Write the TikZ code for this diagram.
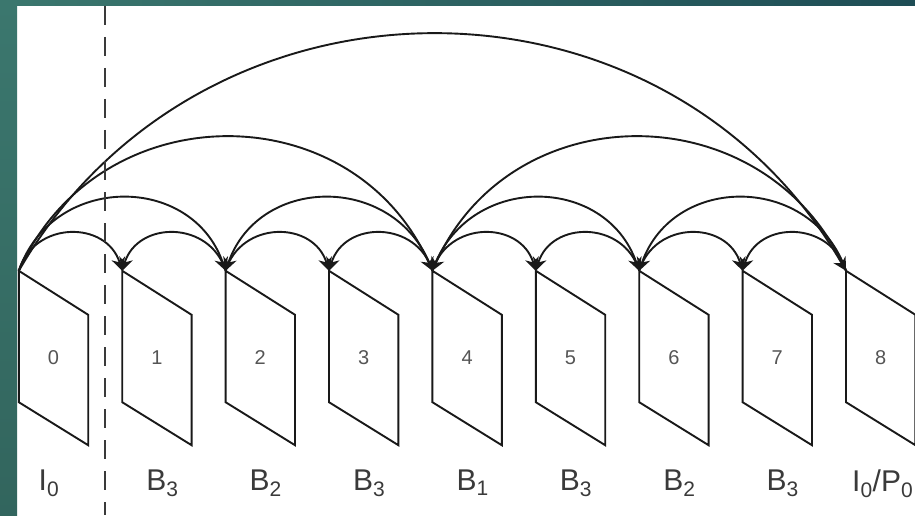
\documentclass[tikz,border=0pt]{standalone}
\usepackage{fontspec}
\setmainfont{Liberation Sans}
\usepackage{xcolor}
\usepackage{tikz}
\usetikzlibrary{arrows.meta, positioning}

\definecolor{slideteal}{HTML}{3B776E}
\definecolor{slidetealdark}{HTML}{1E4D55}
\definecolor{labelgray}{HTML}{3A3A3A}
\definecolor{numgray}{HTML}{555555}

\begin{document}
\begin{tikzpicture}[x=1pt, y=1pt, node distance=34pt]
    \tikzstyle{frame} = [rectangle, minimum width=69pt, minimum height=174pt, inner sep=0pt, text=numgray, font=\fontsize{20}{22}\selectfont]
    \tikzstyle{ftype} = [inner sep=0pt, text=labelgray, font=\fontsize{30}{34}\selectfont]
    \tikzstyle{sheet} = [draw=black!90, line width=1.9pt, line join=miter]
    \tikzstyle{line} = [draw=black!90, -{Stealth[length=13pt, width=14pt]}, line width=1.9pt]
    \tikzstyle{cutline} = [draw=labelgray, line width=2.8pt, dash pattern=on 19pt off 12pt]

    \clip (0,0) rectangle (915,515);
    \fill [white] (0,0) rectangle (915,515);
    \shade [left color=slideteal, right color=slidetealdark] (0,509) rectangle (915,515);
    \shade [top color=slideteal, bottom color=slideteal!85!black] (0,0) rectangle (17,515);

    % frames
    \node [frame] (f0) at (53.5,157) {0};
    \node [frame, right=of f0] (f1) {1};
    \node [frame, right=of f1] (f2) {2};
    \node [frame, right=of f2] (f3) {3};
    \node [frame, right=of f3] (f4) {4};
    \node [frame, right=of f4] (f5) {5};
    \node [frame, right=of f5] (f6) {6};
    \node [frame, right=of f6] (f7) {7};
    \node [frame, right=of f7] (f8) {8};
    \foreach \i in {0,...,8}
        \path [sheet] (f\i.north west) -- ([yshift=-44pt]f\i.north east) -- (f\i.south east) -- ([yshift=43pt]f\i.south west) -- cycle;

    % frame types
    \node [ftype, below=24pt of f0, xshift=-4.5pt] (t0) {I\textsubscript{0}};
    \node [ftype, below=24pt of f1, xshift=5.5pt] (t1) {B\textsubscript{3}};
    \node [ftype, below=24pt of f2, xshift=5.5pt] (t2) {B\textsubscript{2}};
    \node [ftype, below=24pt of f3, xshift=5.5pt] (t3) {B\textsubscript{3}};
    \node [ftype, below=24pt of f4, xshift=5.5pt] (t4) {B\textsubscript{1}};
    \node [ftype, below=24pt of f5, xshift=5.5pt] (t5) {B\textsubscript{3}};
    \node [ftype, below=24pt of f6, xshift=5.5pt] (t6) {B\textsubscript{2}};
    \node [ftype, below=24pt of f7, xshift=5.5pt] (t7) {B\textsubscript{3}};
    \node [ftype, below=24pt of f8, xshift=2pt] (t8) {I\textsubscript{0}/P\textsubscript{0}};

    % references
    \path [line] (f0.north west) to [bend left=60, looseness=1.13] (f8.north west);
    \path [line] (f0.north west) to [bend left=66, looseness=1.21] (f4.north west);
    \path [line] (f8.north west) to [bend right=66, looseness=1.21] (f4.north west);
    \path [line] (f0.north west) to [bend left=71, looseness=1.28] (f2.north west);
    \path [line] (f4.north west) to [bend right=71, looseness=1.28] (f2.north west);
    \path [line] (f4.north west) to [bend left=71, looseness=1.28] (f6.north west);
    \path [line] (f8.north west) to [bend right=71, looseness=1.28] (f6.north west);
    \path [line] (f0.north west) to [bend left=73, looseness=1.31] (f1.north west);
    \path [line] (f2.north west) to [bend right=73, looseness=1.31] (f1.north west);
    \path [line] (f2.north west) to [bend left=73, looseness=1.31] (f3.north west);
    \path [line] (f4.north west) to [bend right=73, looseness=1.31] (f3.north west);
    \path [line] (f4.north west) to [bend left=73, looseness=1.31] (f5.north west);
    \path [line] (f6.north west) to [bend right=73, looseness=1.31] (f5.north west);
    \path [line] (f6.north west) to [bend left=73, looseness=1.31] (f7.north west);
    \path [line] (f8.north west) to [bend right=73, looseness=1.31] (f7.north west);

    % open GOP cut
    \coordinate (cut top) at (105,509);
    \coordinate (cut bottom) at (105,0);
    \path [cutline] (cut top) -- (cut bottom);
\end{tikzpicture}
\end{document}
